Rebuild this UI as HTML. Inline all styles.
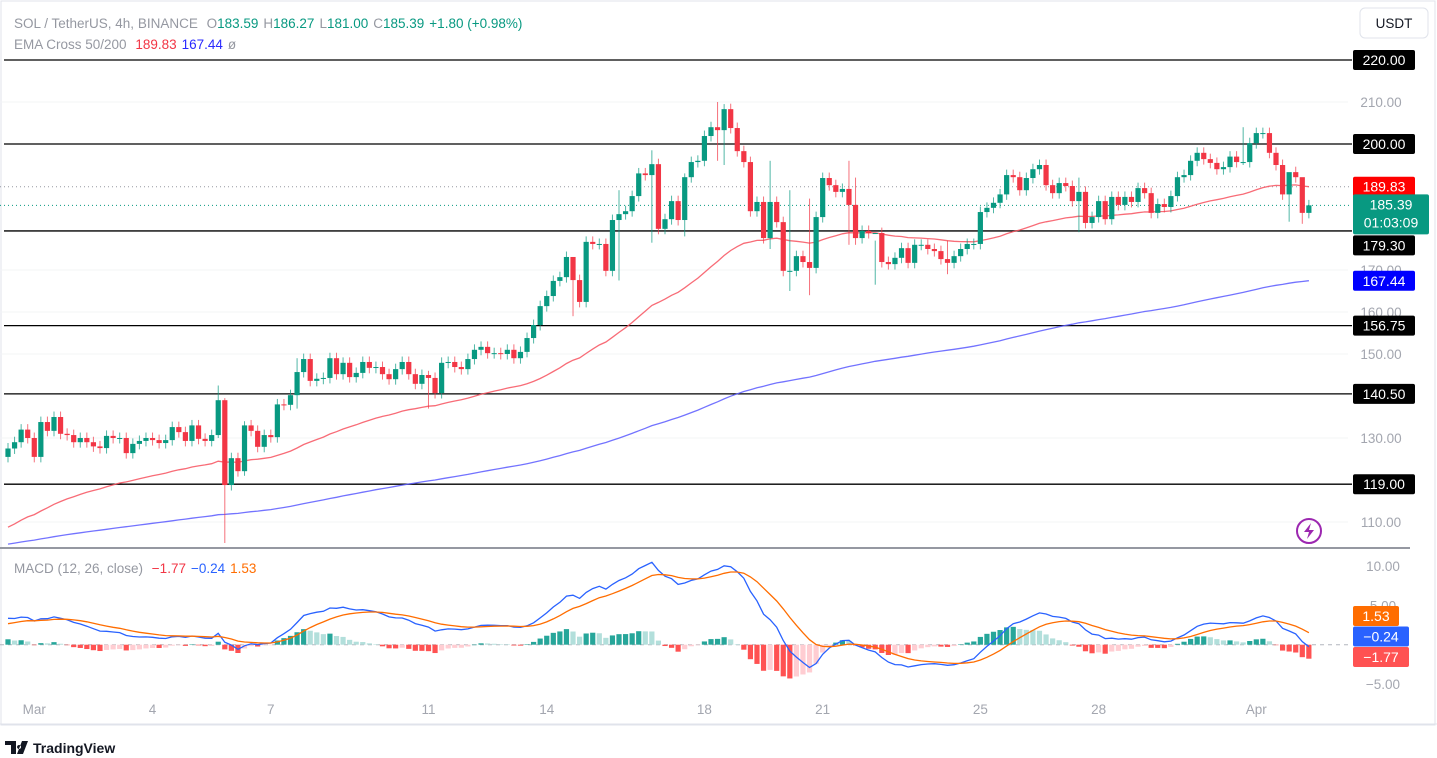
<!DOCTYPE html>
<html><head><meta charset="utf-8"><style>
body{margin:0;background:#fff;font-family:"Liberation Sans",sans-serif;}
svg{display:block}
</style></head><body>
<svg id="c" width="1437" height="758" xmlns="http://www.w3.org/2000/svg" font-family="Liberation Sans, sans-serif">
<rect x="0" y="0" width="1437" height="758" fill="#fff"/>
<rect x="1" y="1" width="1434" height="724" fill="none" stroke="#e0e3eb"/>
<g id="grid"></g>
<g id="levels"></g>
<g id="ema"></g>
<g id="candles"></g>
<g id="macd"></g>
<g id="axis"></g>
<line x1="0" y1="548" x2="1410" y2="548" stroke="#9598a1" stroke-width="2"/>
<line x1="0" y1="724" x2="1437" y2="724" stroke="#e0e3eb"/>
<text x="14" y="28" font-size="13.5" fill="#9598a1">SOL / TetherUS, 4h, BINANCE <tspan dx="5">O</tspan><tspan fill="#089981">183.59</tspan><tspan dx="5">H</tspan><tspan fill="#089981">186.27</tspan><tspan dx="5">L</tspan><tspan fill="#089981">181.00</tspan><tspan dx="5">C</tspan><tspan fill="#089981">185.39</tspan><tspan dx="5" fill="#089981">+1.80 (+0.98%)</tspan></text>
<text x="14" y="49" font-size="13.5" fill="#9598a1">EMA Cross 50/200 <tspan dx="5" fill="#f23645">189.83</tspan><tspan dx="5" fill="#2a2aff">167.44</tspan><tspan dx="5">ø</tspan></text>
<text x="14" y="573" font-size="13.5" fill="#9598a1">MACD (12, 26, close) <tspan dx="5" fill="#f23645">−1.77</tspan><tspan dx="5" fill="#2962ff">−0.24</tspan><tspan dx="5" fill="#ff6d00">1.53</tspan></text>
<g><rect x="1360" y="8" width="68" height="30" rx="5" fill="#fff" stroke="#e0e3eb"/><text x="1394" y="28" font-size="13.5" text-anchor="middle" fill="#131722">USDT</text></g>
<g><circle cx="1309" cy="531" r="12" fill="none" stroke="#9c27b0" stroke-width="2"/><path d="M1311 523 L1304 532 L1309 532 L1307 539 L1314 530 L1309 530 Z" fill="#9c27b0"/></g>
<g><path d="M5 741 h11 v13 h-5 v-9 h-6z M19 745 a2 2 0 1 0 0.1 0z M22 741 h6 l-5 13 h-6z" fill="#131722"/><text x="33" y="753" font-size="14" fill="#131722" font-weight="bold">TradingView</text></g>
</svg>
<script>
const closes=[127.5,129,132,130,125.5,133.8,131.7,135,131,130.7,129,130,129,128,127.6,130.5,130,130,126.4,128.6,129.3,130,129.5,128.8,129.5,132.6,131.4,129.3,133,129.8,129.3,130.7,139,118.8,125.2,122.1,133,131.7,127.9,130.7,130.2,138,137.9,140.2,145.7,148.8,143.6,144.1,144.3,149,145.2,
147.9,144.5,145.5,148.1,146.7,146.9,145.2,144,146.4,148.1,145.2,142.9,145,144.3,140.7,147.9,148.1,146.9,146.4,148.8,151,151.7,150.2,150.2,150,151,149,150.5,153.8,156.9,161.4,163.8,167.4,168.3,173.1,167.6,162.4,176.7,176.2,176.2,169.8,181.9,183.3,184,187.6,193,192.6,195.2,179.8,182.1,
186.4,181.9,192.1,195.7,196,201.9,204,203.3,208.3,203.8,198.3,195.7,184,186.2,177.6,186.2,181.4,169.8,169.8,173.3,171.9,170.5,182.6,191.9,190.2,188.6,189.3,185.5,177.6,179.3,178.8,178.8,171.9,171.4,172.9,175.2,171.7,176,176,175,174.5,172.6,171.7,173.3,175,176.2,176.2,183.8,184.8,
186,188,192.6,192.1,189,191.9,194,195,190.2,188.3,190.7,190,186.4,188.6,181.2,182.6,186.4,182.1,187.4,185.5,187.4,186.2,189.5,188.3,183.6,185.7,185,187.6,192.1,192.6,196,197.9,196.4,195.5,194,194.5,197,195.7,195.7,200.2,202.6,202.6,197.9,195,188,193.3,192.1,183.6,185.39];
const firstOpen=125.5;
const wickIdx=[32,33,36,44,64,86,93,98,103,108,109,116,119,122,128,129,132,143,163,188,195,197];
const wickHi=[142.5,139.5,134,149,146,170,189,198.5,193,210,209.5,196,189,187,196,192,177,177,192,204,192,186.3];
const wickLo=[130,105,121,137,137,159,167.5,176.5,178,196,195,175,165,164,176,176,166.5,169,179,195,181.5,181];
const priceTicks=[210,170,160,150,130,110];
const levelVals=[220,200,179.3,156.75,140.5,119];
const macdTicks=[10,5,-5];
const dateLabels=["Mar","4","7","11","14","18","21","25","28","Apr"];
const dateIdx=[4,22,40,64,82,106,124,148,166,190];
const emaSeeds=[108,104.5];
const macdSeeds=[126,122.5,2.5];

const NS='http://www.w3.org/2000/svg';
function mk(tag,attrs,parent){const e=document.createElementNS(NS,tag);for(const k in attrs)e.setAttribute(k,attrs[k]);parent.appendChild(e);return e;}
const X0=8,DX=6.57;
const xs=i=>X0+i*DX;
const yp=p=>144+(200-p)*4.2;
const ym=v=>644.7-v*7.87;
const G=id=>document.getElementById(id);

priceTicks.forEach(p=>{const l=mk('line',{x1:0,x2:1348,y1:yp(p),y2:yp(p),stroke:'#f3f4f6'},G('grid'));

});
levelVals.forEach(v=>{const g=mk('g',{},G('levels'));


mk('line',{x1:4,x2:1352,y1:yp(v),y2:yp(v),stroke:'#000','stroke-width':1.3},g);});
const lastC=closes[closes.length-1];
const d1=mk('line',{x1:0,x2:1350,y1:yp(189.83),y2:yp(189.83),stroke:'#9598a1','stroke-dasharray':'1 3'},G('levels'));


const d2=mk('line',{x1:0,x2:1350,y1:yp(lastC),y2:yp(lastC),stroke:'#089981','stroke-dasharray':'1 3'},G('levels'));



function ema(arr,n,seed){const k=2/(n+1);let e=seed;return arr.map(v=>(e=v*k+e*(1-k)));}
const e50=ema(closes,50,emaSeeds[0]),e200=ema(closes,200,emaSeeds[1]);
[[e50,'#f7525f','ema-50-line'],[e200,'#5b5bff','ema-200-line']].forEach(([a,c,n])=>{
const p=mk('path',{d:a.map((v,i)=>(i?'L':'M')+xs(i).toFixed(1)+' '+yp(v).toFixed(1)).join(' '),fill:'none',stroke:c,'stroke-width':1.3,opacity:0.85},G('ema'));

});

closes.forEach((c,i)=>{const o=i?closes[i-1]:firstOpen;const up=c>=o;const col=up?'#089981':'#f23645';
let hi=Math.max(o,c)+1.3,lo=Math.min(o,c)-1.3;const w=wickIdx.indexOf(i);if(w>=0){hi=wickHi[w];lo=wickLo[w];}
const g=mk('g',{},G('candles'));


const x=xs(i);
mk('line',{x1:x,x2:x,y1:yp(hi),y2:yp(lo),stroke:col,'stroke-width':1,opacity:0.7},g);
const t=yp(Math.max(o,c)),b=yp(Math.min(o,c));
mk('rect',{x:x-2.6,y:t,width:5.2,height:Math.max(1,b-t),fill:col},g);});

const f=ema(closes,12,macdSeeds[0]),s=ema(closes,26,macdSeeds[1]);
const macd=f.map((v,i)=>v-s[i]);const sig=ema(macd,9,macdSeeds[2]);
mk('line',{x1:0,x2:1350,y1:ym(0),y2:ym(0),stroke:'#b2b5be','stroke-dasharray':'4 4'},G('macd'));
macd.forEach((m,i)=>{const h=m-sig[i];const ph=i?macd[i-1]-sig[i-1]:h;
const col=h>=0?(h>=ph?'#26a69a':'#b2dfdb'):(h<ph?'#ff5252':'#ffcdd2');
const r=mk('rect',{x:xs(i)-2.6,y:Math.min(ym(h),ym(0)),width:5.2,height:Math.max(0.5,Math.abs(ym(h)-ym(0))),fill:col},G('macd'));

});
[[macd,'#2962ff','macd-line'],[sig,'#ff6d00','signal-line']].forEach(([a,c,n])=>{
const p=mk('path',{d:a.map((v,i)=>(i?'L':'M')+xs(i).toFixed(1)+' '+ym(v).toFixed(1)).join(' '),fill:'none',stroke:c,'stroke-width':1.3},G('macd'));

});

const ax=G('axis');
priceTicks.forEach(p=>{const t=mk('text',{x:1381,y:yp(p)+5,'font-size':13.5,fill:'#a3a6af','text-anchor':'middle'},ax);t.textContent=p.toFixed(2);

});
macdTicks.forEach(v=>{const t=mk('text',{x:1383,y:ym(v)+5,'font-size':13.5,fill:'#a3a6af','text-anchor':'middle'},ax);t.textContent=(v<0?'−':'')+Math.abs(v).toFixed(2);

});
dateLabels.forEach((d,i)=>{const t=mk('text',{x:xs(dateIdx[i]),y:714,'font-size':13.5,fill:'#a3a6af','text-anchor':'middle'},ax);t.textContent=d;

});
function badge(y,h,w,bg,lines,name){const g=mk('g',{},ax);


mk('rect',{x:1353,y:y,width:w,height:h,rx:2,fill:bg},g);
lines.forEach((l,k)=>{const t=mk('text',{x:1353+w/2,y:y+15+k*18,'font-size':14,fill:'#fff','text-anchor':'middle'},g);t.textContent=l;});}
const lastTop=yp(lastC)-11;
levelVals.forEach(v=>{let y=yp(v)-10;if(y<lastTop+40&&y+20>lastTop)y=lastTop+41;badge(y,20,62,'#000',[v.toFixed(2)],'level-label');});
badge(yp(189.83)-10,20,62,'#ff0000',['189.83'],'ema50-label');
badge(lastTop,40,76,'#089981',[lastC.toFixed(2),'01:03:09'],'last-price-label');
badge(yp(167.44)-10,20,62,'#0000ff',['167.44'],'ema200-label');
[[1.53,'#ff6d00','1.53','signal-label'],[-0.24,'#2962ff','−0.24','macd-label'],[-1.77,'#ff5252','−1.77','histogram-label']].forEach(([v,c,t,n],k)=>{
badge(606+k*20.5,20,k?56:46,c,[t],n);});
</script>
</body></html>
